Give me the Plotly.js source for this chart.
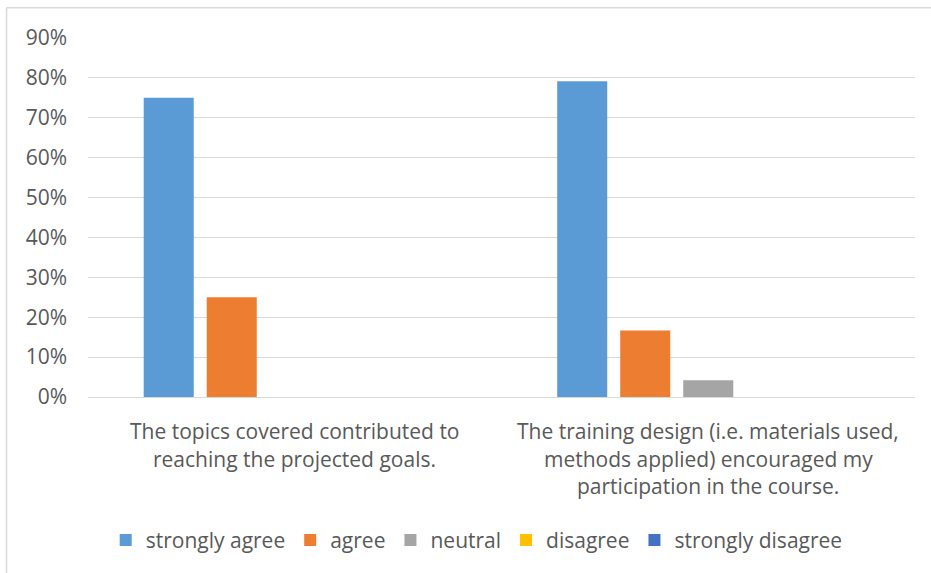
<!DOCTYPE html>
<html>
<head>
<meta charset="utf-8">
<script src="https://cdn.plot.ly/plotly-3.0.1.min.js"></script>
<style>
  html, body { margin: 0; padding: 0; background: #fff; }
  #chart { width: 931px; height: 573px; }
</style>
</head>
<body>
<div id="chart"></div>
<script>
// ---- data ----
const categories = [
  "The topics covered contributed to reaching the projected goals.",
  "The training design (i.e. materials used, methods applied) encouraged my participation in the course."
];
const categoryLines = [
  ["The topics covered contributed to", "reaching the projected goals."],
  ["The training design (i.e. materials used,", "methods applied) encouraged my", "participation in the course."]
];
const seriesNames = ["strongly agree", "agree", "neutral", "disagree", "strongly disagree"];
const stronglyAgree = [0.75, 0.7917];
const agree = [0.25, 0.1667];
const neutral = [0, 0.0417];
const disagree = [0, 0];
const stronglyDisagree = [0, 0];
const yTickValues = [0, 0.1, 0.2, 0.3, 0.4, 0.5, 0.6, 0.7, 0.8, 0.9];

// ---- styles ----
const colors = ["#5B9BD5", "#ED7D31", "#A5A5A5", "#FFC000", "#4472C4"];
const seriesValues = [stronglyAgree, agree, neutral, disagree, stronglyDisagree];
const FONT = "Open Sans, sans-serif";
const TXT = "#595959";

const traces = seriesNames.map((name, i) => ({
  type: "bar",
  name: name,
  x: categories,
  y: seriesValues[i],
  marker: { color: colors[i], line: { width: 0 } },
  hoverinfo: "x+y+name"
}));

const annotations = [];
categoryLines.forEach((lines, ci) => {
  lines.forEach((ln, li) => {
    annotations.push({
      xref: "x", yref: "paper",
      x: categories[ci], y: 0,
      xanchor: "center", yanchor: "middle",
      yshift: -34 - li * 27.5,
      text: ln, showarrow: false,
      font: { family: FONT, size: 21, color: TXT }
    });
  });
});

const layout = {
  width: 931, height: 573,
  margin: { l: 88, r: 16, t: 38, b: 174 },
  paper_bgcolor: "#fff", plot_bgcolor: "#fff",
  barmode: "group",
  bargap: 0.238,
  bargroupgap: 0.206,
  font: { family: FONT, color: TXT },
  xaxis: {
    type: "category",
    showticklabels: false,
    showgrid: false,
    zeroline: false,
    showline: true, linecolor: "#D9D9D9", linewidth: 1,
    ticks: ""
  },
  yaxis: {
    range: [0, 0.9],
    tickvals: yTickValues,
    tickformat: ".0%",
    tickfont: { family: FONT, size: 21, color: TXT },
    showgrid: true, gridcolor: "#D9D9D9", gridwidth: 1,
    zeroline: false, showline: false, ticks: "",
    ticklabelstandoff: 20
  },
  showlegend: true,
  legend: {
    orientation: "h",
    x: 0.47, xanchor: "center",
    y: -0.399, yanchor: "middle",
    font: { family: FONT, size: 21, color: TXT },
    traceorder: "normal"
  },
  annotations: annotations,
  shapes: [
    { type: "line", xref: "paper", yref: "paper", x0: -0.0985, x1: 1.05, y0: 1.0845, y1: 1.0845,
      line: { color: "#D9D9D9", width: 1.5 }, layer: "below" },
    { type: "line", xref: "paper", yref: "paper", x0: -0.0985, x1: -0.0985, y0: 1.0845, y1: -0.6,
      line: { color: "#D9D9D9", width: 1.5 }, layer: "below" }
  ]
};

Plotly.newPlot("chart", traces, layout, { displayModeBar: false, staticPlot: true });
</script>
</body>
</html>
